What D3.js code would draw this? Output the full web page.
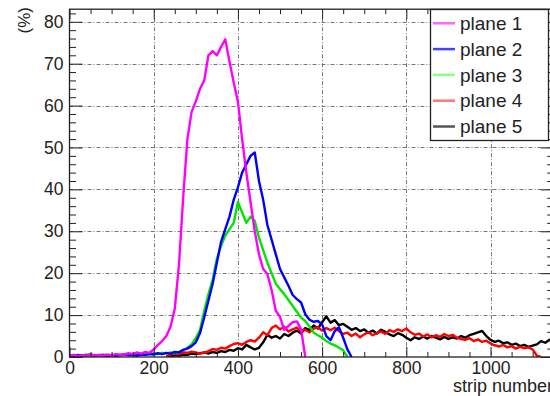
<!DOCTYPE html>
<html>
<head>
<meta charset="utf-8">
<script src="https://cdn.jsdelivr.net/npm/d3@7"></script>
<style>
  body { margin: 0; background: #fff; }
  text { font-family: "Liberation Sans", Arial, sans-serif; fill: #222; }
</style>
</head>
<body>
<div class="chart"></div>
<script>
var svgWidth = 550;
var svgHeight = 396;

// strip bins are 10 strips wide, each series starts at its own strip
var binStep = 10;

var plane1Start = 0;
var plane1 = [0.3,0.5,0.2,0.4,0.3,0.6,0.4,0.5,0.3,0.6,
  0.4,0.7,0.5,0.6,0.9,0.7,1.1,0.8,1.2,1.0,
  1.8,2.9,3.8,5.0,7.2,11.5,22,38,52,58.5,
  61,64,66,72,73,72,74,75.8,70.5,65.5,
  61,52,44,37,30,24.5,21,19.8,16,11,
  9.6,6.5,7.4,8.3,8.5,6.6,0];

var plane2Start = 0;
var plane2 = [0.4,0.2,0.5,0.3,0.4,0.6,0.3,0.5,0.4,0.2,
  0.5,0.3,0.4,0.6,0.4,0.5,0.3,0.6,0.5,0.7,
  0.6,0.9,0.7,1.0,0.8,1.2,1.1,1.7,2.0,2.6,
  3.5,5.7,9.5,13.5,17.5,22.5,27.5,30.5,33.5,37.5,
  40.5,44,46,48,48.8,42,37.5,31.5,28,24.5,
  21,19,17,14.8,13.8,13,10.2,8.9,8.4,8.6,
  7.8,5,4,6.2,7.1,4.6,1.8,0];

var plane3Start = 0;
var plane3 = [0.3,0.5,0.2,0.4,0.6,0.3,0.5,0.4,0.6,0.3,
  0.5,0.4,0.6,0.5,0.7,0.5,0.6,0.8,0.6,0.7,
  0.9,0.7,1.0,0.8,1.1,0.9,1.2,1.6,2.2,3.0,
  4.5,6.5,11,15,18.5,23.5,26.5,29,30.5,32,
  37,34.5,32,33.5,32.5,28.5,25.5,22.5,20,17.5,
  16.2,15,13.6,12.2,10.8,9.4,8.6,7.3,5.8,5.2,
  4.6,3.8,3.2,2.8,2.2,1.6,0];

var plane4Start = 230;
var plane4 = [0.2,0.6,0.9,0.7,1.1,1.0,1.3,
  1.1,0.8,1.0,1.4,1.9,1.7,2.2,2.0,2.6,3.1,
  3.3,2.9,3.6,4.0,3.7,4.6,5.9,5.2,6.9,7.5,
  6.6,7.2,6.1,6.6,7.0,6.2,6.5,5.9,6.8,7.1,
  6.3,6.9,6.4,7.0,6.2,5.5,5.8,5.0,5.6,4.7,
  5.4,5.9,5.2,5.7,6.1,5.5,6.4,6.0,6.6,6.2,
  6.8,5.9,5.3,5.6,4.9,5.4,4.7,5.2,4.8,5.5,
  5.0,5.3,4.6,4.3,4.1,4.5,3.8,4.2,3.6,3.9,
  3.2,2.8,2.5,2.9,2.3,2.6,2.0,2.4,2.1,2.3,
  1.8,0.3,0];

var plane5Start = 230;
var plane5 = [0,0.2,0.4,0.3,0.6,0.5,0.8,
  0.7,0.9,1.1,0.8,1.2,1.0,1.4,1.2,1.7,1.5,
  2.1,1.8,2.9,2.3,1.8,2.2,3.5,5.3,4.6,5.0,
  4.4,5.5,5.0,5.8,6.3,5.6,6.9,6.4,7.5,6.8,
  8.3,9.7,8.2,8.8,7.6,7.9,7.2,6.5,6.9,6.2,
  6.6,5.8,6.3,5.6,6.5,6.0,5.4,5.0,5.7,5.3,
  4.6,4.0,4.7,4.3,4.9,4.4,5.0,4.6,4.2,4.8,
  4.3,4.7,4.4,5.0,4.6,5.2,5.5,5.9,6.2,5.0,
  4.1,3.6,3.9,3.3,3.5,2.9,3.2,2.6,2.9,2.4,
  2.7,3.0,3.8,3.4,4.1,3.9];

var seriesNames = ["plane 1", "plane 2", "plane 3", "plane 4", "plane 5"];
var seriesColors = ["#ff00ff", "#0000ff", "#00e600", "#ff0000", "#000000"];
var legendColors = ["#ff66ff", "#4444ff", "#88ff88", "#ff7777", "#555555"];

var xMajor = [0, 200, 400, 600, 800, 1000];
var xMinor = [50, 100, 150, 250, 300, 350, 450, 500, 550, 650, 700, 750, 850, 900, 950, 1050, 1100];
var yMajor = [0, 10, 20, 30, 40, 50, 60, 70, 80];
var yMinor = [2, 4, 6, 8, 12, 14, 16, 18, 22, 24, 26, 28, 32, 34, 36, 38, 42, 44, 46, 48,
  52, 54, 56, 58, 62, 64, 66, 68, 72, 74, 76, 78, 82];

var svg = d3.select(".chart")
  .append("svg")
  .attr("width", svgWidth)
  .attr("height", svgHeight);

var xScale = d3.scaleLinear().domain([0, 1150]).range([69.5, 553.7]);
var yScale = d3.scaleLinear().domain([0, 83]).range([357, 9.2]);

var x0 = xScale(0), x1 = xScale(1150), y0 = yScale(0), y1 = yScale(83);

// grid (dash-dot)
var grid = svg.append("g").attr("stroke", "#777").attr("stroke-width", 1)
  .attr("stroke-dasharray", "4,2,1,2");
grid.selectAll(".hg").data(yMajor.slice(1)).enter().append("line")
  .attr("x1", x0).attr("x2", x1)
  .attr("y1", d => Math.round(yScale(d)) + 0.5).attr("y2", d => Math.round(yScale(d)) + 0.5);
grid.selectAll(".vg").data(xMajor.slice(1)).enter().append("line")
  .attr("y1", y1).attr("y2", y0)
  .attr("x1", d => Math.round(xScale(d)) + 0.5).attr("x2", d => Math.round(xScale(d)) + 0.5);

// curves
svg.append("clipPath").attr("id", "plotclip").append("rect")
  .attr("x", x0).attr("y", y1).attr("width", x1 - x0).attr("height", y0 - y1);

var allSeries = [
  {data: plane1, start: plane1Start},
  {data: plane2, start: plane2Start},
  {data: plane3, start: plane3Start},
  {data: plane4, start: plane4Start},
  {data: plane5, start: plane5Start}
];

var line = d3.line()
  .x(d => xScale(d[0]))
  .y(d => yScale(d[1]));

var curves = svg.append("g").attr("clip-path", "url(#plotclip)");
for (var k = allSeries.length - 1; k >= 0; k--) {
  var s = allSeries[k];
  var pts = s.data.map((v, i) => [s.start + i * binStep, v]);
  curves.append("path")
    .attr("d", line(pts))
    .attr("fill", "none")
    .attr("stroke", seriesColors[k])
    .attr("stroke-width", 2.4)
    .attr("stroke-linejoin", "round");
}

// axes, ticks pointing inward
function clean(g) { g.select(".domain").remove(); g.selectAll("line").attr("stroke", "#222"); }

svg.append("g").attr("transform", `translate(0, ${y0})`)
  .call(d3.axisBottom(xScale).tickValues(xMajor).tickSizeInner(-10).tickSizeOuter(0).tickPadding(5)
    .tickFormat(d3.format("d")))
  .call(clean)
  .selectAll("text").attr("font-size", 17.5).attr("font-family", "Liberation Sans").attr("fill", "#222");
svg.append("g").attr("transform", `translate(0, ${y0})`)
  .call(d3.axisBottom(xScale).tickValues(xMinor).tickSizeInner(-5).tickSizeOuter(0).tickFormat(""))
  .call(clean);
svg.append("g").attr("transform", `translate(0, ${y1})`)
  .call(d3.axisTop(xScale).tickValues(xMajor).tickSizeInner(-10).tickSizeOuter(0).tickFormat(""))
  .call(clean);
svg.append("g").attr("transform", `translate(0, ${y1})`)
  .call(d3.axisTop(xScale).tickValues(xMinor).tickSizeInner(-5).tickSizeOuter(0).tickFormat(""))
  .call(clean);

svg.append("g").attr("transform", `translate(${x0}, 0)`)
  .call(d3.axisLeft(yScale).tickValues(yMajor).tickSizeInner(-13).tickSizeOuter(0).tickPadding(6))
  .call(clean)
  .selectAll("text").attr("font-size", 17.5).attr("font-family", "Liberation Sans").attr("fill", "#222");
svg.append("g").attr("transform", `translate(${x0}, 0)`)
  .call(d3.axisLeft(yScale).tickValues(yMinor).tickSizeInner(-6.5).tickSizeOuter(0).tickFormat(""))
  .call(clean);
svg.append("g").attr("transform", `translate(${x1}, 0)`)
  .call(d3.axisRight(yScale).tickValues(yMajor).tickSizeInner(-13).tickSizeOuter(0).tickFormat(""))
  .call(clean);
svg.append("g").attr("transform", `translate(${x1}, 0)`)
  .call(d3.axisRight(yScale).tickValues(yMinor).tickSizeInner(-6.5).tickSizeOuter(0).tickFormat(""))
  .call(clean);

// frame
svg.append("rect")
  .attr("x", x0).attr("y", y1).attr("width", x1 - x0).attr("height", y0 - y1)
  .attr("fill", "none").attr("stroke", "#222").attr("stroke-width", 1.3);

// axis titles
svg.append("text")
  .attr("x", 553).attr("y", 392)
  .attr("text-anchor", "end")
  .attr("font-size", 18)
  .text("strip number");

svg.append("text")
  .attr("transform", "translate(30, 7) rotate(-90)")
  .attr("text-anchor", "end")
  .attr("font-size", 17)
  .text("(%)");

// legend
var legend = svg.append("g");
legend.append("rect")
  .attr("x", 430.5).attr("y", 9.5).attr("width", 118).attr("height", 131)
  .attr("fill", "#fff").attr("stroke", "#222").attr("stroke-width", 1.3);

var entries = legend.selectAll(".entry").data(seriesNames).enter().append("g")
  .attr("transform", (d, i) => `translate(0, ${23.3 + i * 25.8})`);
entries.append("line")
  .attr("x1", 433).attr("x2", 455).attr("y1", 0).attr("y2", 0)
  .attr("stroke", (d, i) => legendColors[i]).attr("stroke-width", 2.5);
entries.append("text")
  .attr("x", 460).attr("y", 0).attr("dy", "0.35em")
  .attr("font-size", 19)
  .text(d => d);
</script>
</body>
</html>
